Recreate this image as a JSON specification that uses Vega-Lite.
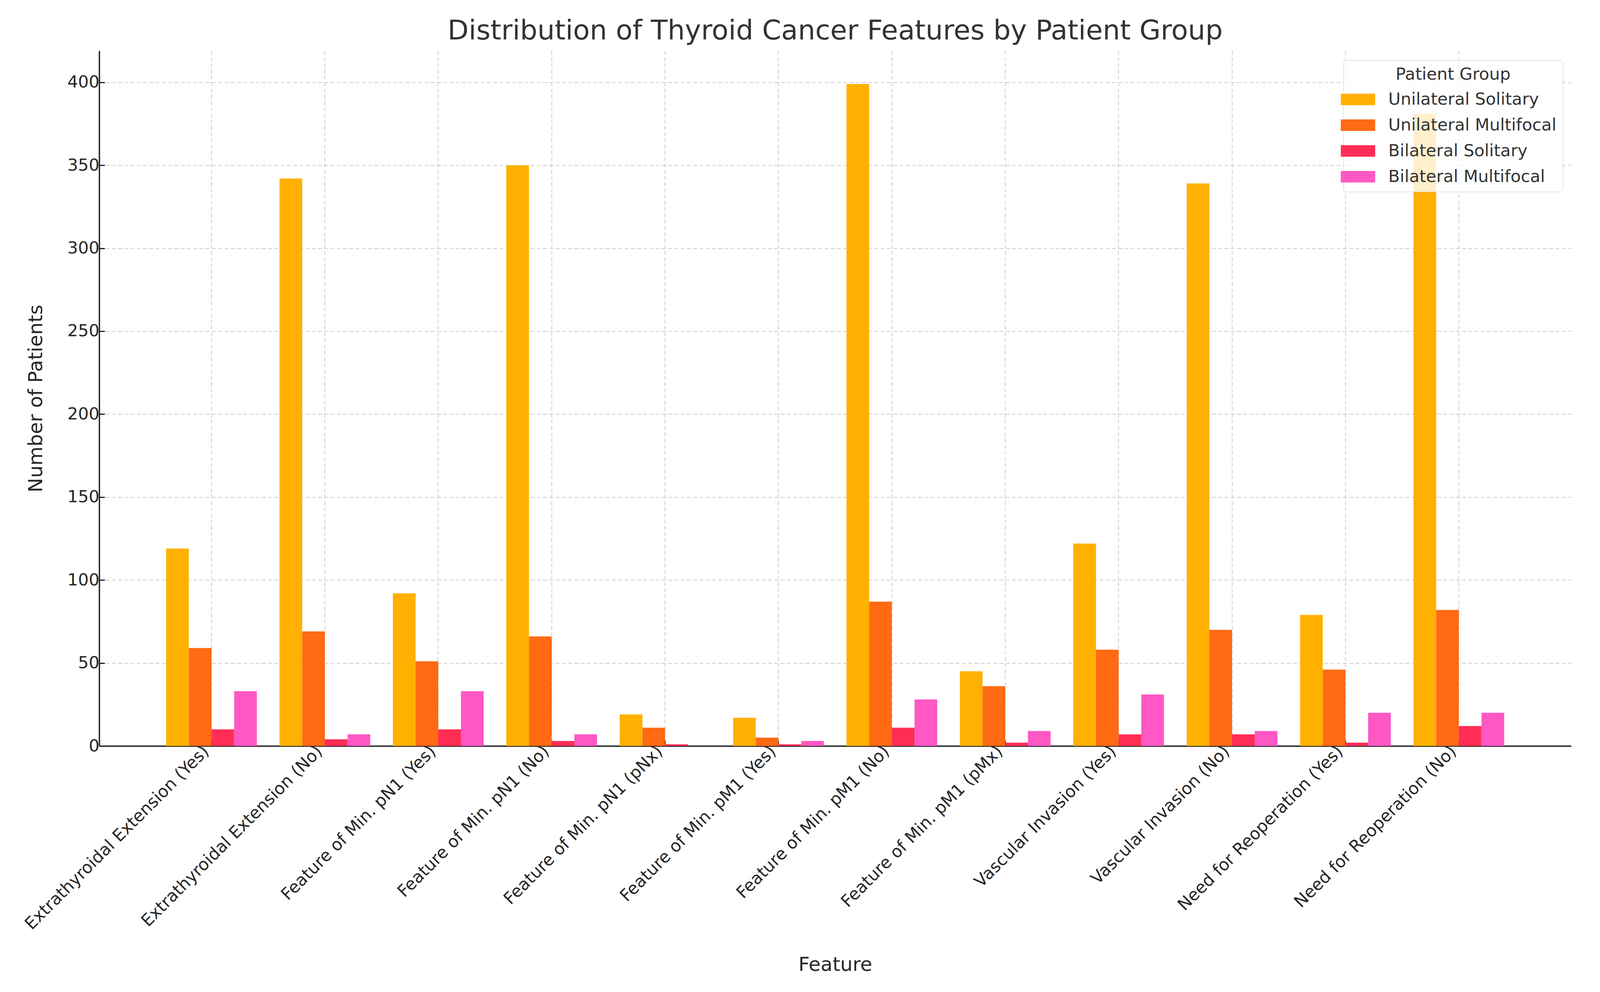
{
  "$schema": "https://vega.github.io/schema/vega-lite/v6.json",
  "autosize": {"type": "fit", "contains": "padding"},
  "width": "container",
  "height": 2540,
  "padding": {"left": 67, "top": 45, "right": 74, "bottom": 45},
  "background": "white",
  "title": {
    "text": "Distribution of Thyroid Cancer Features by Patient Group",
    "font": "DejaVu Sans",
    "fontSize": 70,
    "fontWeight": "normal",
    "color": "#333333",
    "anchor": "middle",
    "offset": 14
  },
  "data": {
    "values": [
      {"feature": "Extrathyroidal Extension (Yes)", "group": "Unilateral Solitary", "count": 119},
      {"feature": "Extrathyroidal Extension (Yes)", "group": "Unilateral Multifocal", "count": 59},
      {"feature": "Extrathyroidal Extension (Yes)", "group": "Bilateral Solitary", "count": 10},
      {"feature": "Extrathyroidal Extension (Yes)", "group": "Bilateral Multifocal", "count": 33},
      {"feature": "Extrathyroidal Extension (No)", "group": "Unilateral Solitary", "count": 342},
      {"feature": "Extrathyroidal Extension (No)", "group": "Unilateral Multifocal", "count": 69},
      {"feature": "Extrathyroidal Extension (No)", "group": "Bilateral Solitary", "count": 4},
      {"feature": "Extrathyroidal Extension (No)", "group": "Bilateral Multifocal", "count": 7},
      {"feature": "Feature of Min. pN1 (Yes)", "group": "Unilateral Solitary", "count": 92},
      {"feature": "Feature of Min. pN1 (Yes)", "group": "Unilateral Multifocal", "count": 51},
      {"feature": "Feature of Min. pN1 (Yes)", "group": "Bilateral Solitary", "count": 10},
      {"feature": "Feature of Min. pN1 (Yes)", "group": "Bilateral Multifocal", "count": 33},
      {"feature": "Feature of Min. pN1 (No)", "group": "Unilateral Solitary", "count": 350},
      {"feature": "Feature of Min. pN1 (No)", "group": "Unilateral Multifocal", "count": 66},
      {"feature": "Feature of Min. pN1 (No)", "group": "Bilateral Solitary", "count": 3},
      {"feature": "Feature of Min. pN1 (No)", "group": "Bilateral Multifocal", "count": 7},
      {"feature": "Feature of Min. pN1 (pNx)", "group": "Unilateral Solitary", "count": 19},
      {"feature": "Feature of Min. pN1 (pNx)", "group": "Unilateral Multifocal", "count": 11},
      {"feature": "Feature of Min. pN1 (pNx)", "group": "Bilateral Solitary", "count": 1},
      {"feature": "Feature of Min. pN1 (pNx)", "group": "Bilateral Multifocal", "count": 0},
      {"feature": "Feature of Min. pM1 (Yes)", "group": "Unilateral Solitary", "count": 17},
      {"feature": "Feature of Min. pM1 (Yes)", "group": "Unilateral Multifocal", "count": 5},
      {"feature": "Feature of Min. pM1 (Yes)", "group": "Bilateral Solitary", "count": 1},
      {"feature": "Feature of Min. pM1 (Yes)", "group": "Bilateral Multifocal", "count": 3},
      {"feature": "Feature of Min. pM1 (No)", "group": "Unilateral Solitary", "count": 399},
      {"feature": "Feature of Min. pM1 (No)", "group": "Unilateral Multifocal", "count": 87},
      {"feature": "Feature of Min. pM1 (No)", "group": "Bilateral Solitary", "count": 11},
      {"feature": "Feature of Min. pM1 (No)", "group": "Bilateral Multifocal", "count": 28},
      {"feature": "Feature of Min. pM1 (pMx)", "group": "Unilateral Solitary", "count": 45},
      {"feature": "Feature of Min. pM1 (pMx)", "group": "Unilateral Multifocal", "count": 36},
      {"feature": "Feature of Min. pM1 (pMx)", "group": "Bilateral Solitary", "count": 2},
      {"feature": "Feature of Min. pM1 (pMx)", "group": "Bilateral Multifocal", "count": 9},
      {"feature": "Vascular Invasion (Yes)", "group": "Unilateral Solitary", "count": 122},
      {"feature": "Vascular Invasion (Yes)", "group": "Unilateral Multifocal", "count": 58},
      {"feature": "Vascular Invasion (Yes)", "group": "Bilateral Solitary", "count": 7},
      {"feature": "Vascular Invasion (Yes)", "group": "Bilateral Multifocal", "count": 31},
      {"feature": "Vascular Invasion (No)", "group": "Unilateral Solitary", "count": 339},
      {"feature": "Vascular Invasion (No)", "group": "Unilateral Multifocal", "count": 70},
      {"feature": "Vascular Invasion (No)", "group": "Bilateral Solitary", "count": 7},
      {"feature": "Vascular Invasion (No)", "group": "Bilateral Multifocal", "count": 9},
      {"feature": "Need for Reoperation (Yes)", "group": "Unilateral Solitary", "count": 79},
      {"feature": "Need for Reoperation (Yes)", "group": "Unilateral Multifocal", "count": 46},
      {"feature": "Need for Reoperation (Yes)", "group": "Bilateral Solitary", "count": 2},
      {"feature": "Need for Reoperation (Yes)", "group": "Bilateral Multifocal", "count": 20},
      {"feature": "Need for Reoperation (No)", "group": "Unilateral Solitary", "count": 381},
      {"feature": "Need for Reoperation (No)", "group": "Unilateral Multifocal", "count": 82},
      {"feature": "Need for Reoperation (No)", "group": "Bilateral Solitary", "count": 12},
      {"feature": "Need for Reoperation (No)", "group": "Bilateral Multifocal", "count": 20}
    ]
  },
  "mark": {"type": "bar", "strokeWidth": 0},
  "encoding": {
    "x": {
      "field": "feature",
      "type": "nominal",
      "sort": null,
      "title": "Feature",
      "scale": {"paddingInner": 0.2, "paddingOuter": 0.59},
      "axis": {
        "labelAngle": -45,
        "labelAlign": "right",
        "labelBaseline": "top",
        "labelOffset": -28,
        "labelPadding": 6,
        "labelLimit": 2000,
        "tickSize": -14,
        "bandPosition": 0.5,
        "titleY": 575,
        "titleBaseline": "alphabetic"
      }
    },
    "xOffset": {
      "field": "group",
      "type": "nominal",
      "sort": ["Unilateral Solitary", "Unilateral Multifocal", "Bilateral Solitary", "Bilateral Multifocal"],
      "scale": {"paddingInner": 0, "paddingOuter": 0}
    },
    "y": {
      "field": "count",
      "type": "quantitative",
      "title": "Number of Patients",
      "scale": {"domain": [0, 419], "nice": false},
      "axis": {
        "values": [0, 50, 100, 150, 200, 250, 300, 350, 400],
        "tickSize": -14,
        "labelPadding": 14,
        "titlePadding": 54
      }
    },
    "color": {
      "field": "group",
      "type": "nominal",
      "title": "Patient Group",
      "sort": ["Unilateral Solitary", "Unilateral Multifocal", "Bilateral Solitary", "Bilateral Multifocal"],
      "scale": {
        "domain": ["Unilateral Solitary", "Unilateral Multifocal", "Bilateral Solitary", "Bilateral Multifocal"],
        "range": ["#FFB000", "#FF6A13", "#FF2D55", "#FF57C4"]
      },
      "legend": {
        "orient": "none",
        "legendX": {"expr": "width - 583"},
        "legendY": 24,
        "padding": 16,
        "cornerRadius": 8,
        "strokeColor": "#cccccc",
        "fillColor": "rgba(255,255,255,0.8)",
        "titleAnchor": "middle",
        "titleFont": "DejaVu Sans",
        "titleFontSize": 43,
        "titleFontWeight": "normal",
        "titleColor": "#333333",
        "titleLimit": 2000,
        "titlePadding": 20,
        "labelFont": "DejaVu Sans",
        "labelFontSize": 43,
        "labelColor": "#333333",
        "labelLimit": 2000,
        "labelOffset": 56,
        "rowPadding": 22,
        "symbolType": "M-3,-1H3V1H-3Z",
        "symbolSize": 860,
        "symbolStrokeWidth": 0,
        "symbolOpacity": 1
      }
    }
  },
  "config": {
    "view": {"stroke": null},
    "font": "DejaVu Sans",
    "axis": {
      "labelFont": "DejaVu Sans",
      "labelFontSize": 43,
      "labelColor": "#262626",
      "titleFont": "DejaVu Sans",
      "titleFontSize": 50,
      "titleFontWeight": "normal",
      "titleColor": "#262626",
      "domainColor": "#222222",
      "domainWidth": 3.5,
      "tickColor": "#222222",
      "tickWidth": 3,
      "grid": true,
      "gridColor": "#cccccc",
      "gridWidth": 2,
      "gridDash": [10, 6]
    }
  }
}
